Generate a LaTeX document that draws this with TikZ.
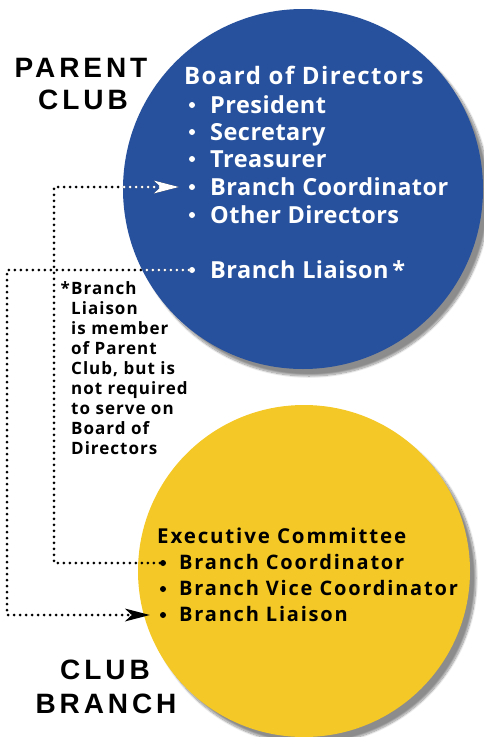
\documentclass[tikz,border=0pt]{standalone}
\usepackage{fontspec}
\setmainfont[LetterSpace=6]{Open Sans}
\newfontfamily\itemfont[LetterSpace=2]{Open Sans}
\newfontfamily\widefont[LetterSpace=9]{Open Sans}
\newfontfamily\headfont[LetterSpace=14]{Liberation Sans}
\usetikzlibrary{arrows.meta,shadows.blur}
\definecolor{clubblue}{RGB}{39,81,157}
\definecolor{branchgold}{RGB}{244,200,38}

\begin{document}
\begin{tikzpicture}[x=1pt,y=-1pt,
  every node/.style={inner sep=0pt},
  club/.style={circle,minimum size=#1,blur shadow={shadow xshift=6pt,shadow yshift=-7pt,shadow blur steps=12,shadow opacity=45}},
  title/.style={font=\headfont\bfseries\fontsize{28}{32}\selectfont,align=center,anchor=base},
  bighead/.style={font=\bfseries\fontsize{24}{27}\selectfont,anchor=base west},
  bigitem/.style={font=\itemfont\bfseries\fontsize{23.5}{27}\selectfont,anchor=base west},
  smallhead/.style={font=\widefont\bfseries\fontsize{20.5}{26}\selectfont,anchor=base west},
  smallitem/.style={font=\widefont\bfseries\fontsize{20}{26}\selectfont,anchor=base west},
  bullet/.style={circle,fill,minimum size=6pt},
  note/.style={font=\bfseries\fontsize{17}{20}\selectfont,align=left,anchor=north west},
  link/.style={line width=3pt,line cap=round,dash pattern=on 0pt off 6pt,
    -{Stealth[length=25pt,width=13pt,inset=7pt,line width=0pt]},shorten >=10pt}]
\useasboundingbox (0,0) rectangle (484,737);
% circles
\node [club=332pt,fill=branchgold] (branch) at (304,571) {};
\node [club=360pt,fill=clubblue] (parent) at (303,189) {};
% titles
\node [title] (ptitle) at (81,77) {PARENT};
\node [title] (ptitle2) at (83,109) {CLUB};
\node [title] (btitle) at (105,679) {CLUB};
\node [title] (btitle2) at (106,713) {BRANCH};
% board of directors
\begin{scope}[white]
\node [bighead] (board) at (184,84) {Board of Directors};
\node [bullet] (pb1) at (192,105) {};
\node [bigitem] (pi1) at (210,113) {President};
\node [bullet] (pb2) at (192,132) {};
\node [bigitem] (pi2) at (210,140) {Secretary};
\node [bullet] (pb3) at (192,159) {};
\node [bigitem] (pi3) at (210,167) {Treasurer};
\node [bullet] (pb4) at (192,187) {};
\node [bigitem] (pi4) at (210,195) {Branch Coordinator};
\node [bullet] (pb5) at (192,215) {};
\node [bigitem] (pi5) at (210,223) {Other Directors};
\node [bullet] (pb6) at (192,270) {};
\node [bigitem] (pi6) at (210,278) {Branch Liaison\,*};
\end{scope}
% executive committee
\node [smallhead] (exec) at (157,543) {Executive Committee};
\node [bullet] (yb1) at (163,563) {};
\node [smallitem] (yi1) at (179,569) {Branch Coordinator};
\node [bullet] (yb2) at (163,589) {};
\node [smallitem] (yi2) at (179,595) {Branch Vice Coordinator};
\node [bullet] (yb3) at (163,615) {};
\node [smallitem] (yi3) at (179,621) {Branch Liaison};
% footnote
\node [note,anchor=base east] (star) at (70,294) {*};
\node [note] (footnote) at (71,281) {Branch\\Liaison\\is member\\of Parent\\Club, but is\\not required\\to serve on\\Board of\\Directors};
% links
\coordinate (lane1) at (54,0);
\coordinate (lane2) at (7,0);
\draw [link] (yb1) -- (yb1 -| lane1) |- (pb4);
\draw [link] (pb6) -- (pb6 -| lane2) |- (yb3);
\begin{scope}
\clip (parent.center) circle [radius=180pt];
\draw [link,white] (yb1) -- (yb1 -| lane1) |- (pb4);
\draw [link,white] (pb6) -- (pb6 -| lane2) |- (yb3);
\end{scope}
\end{tikzpicture}
\end{document}
